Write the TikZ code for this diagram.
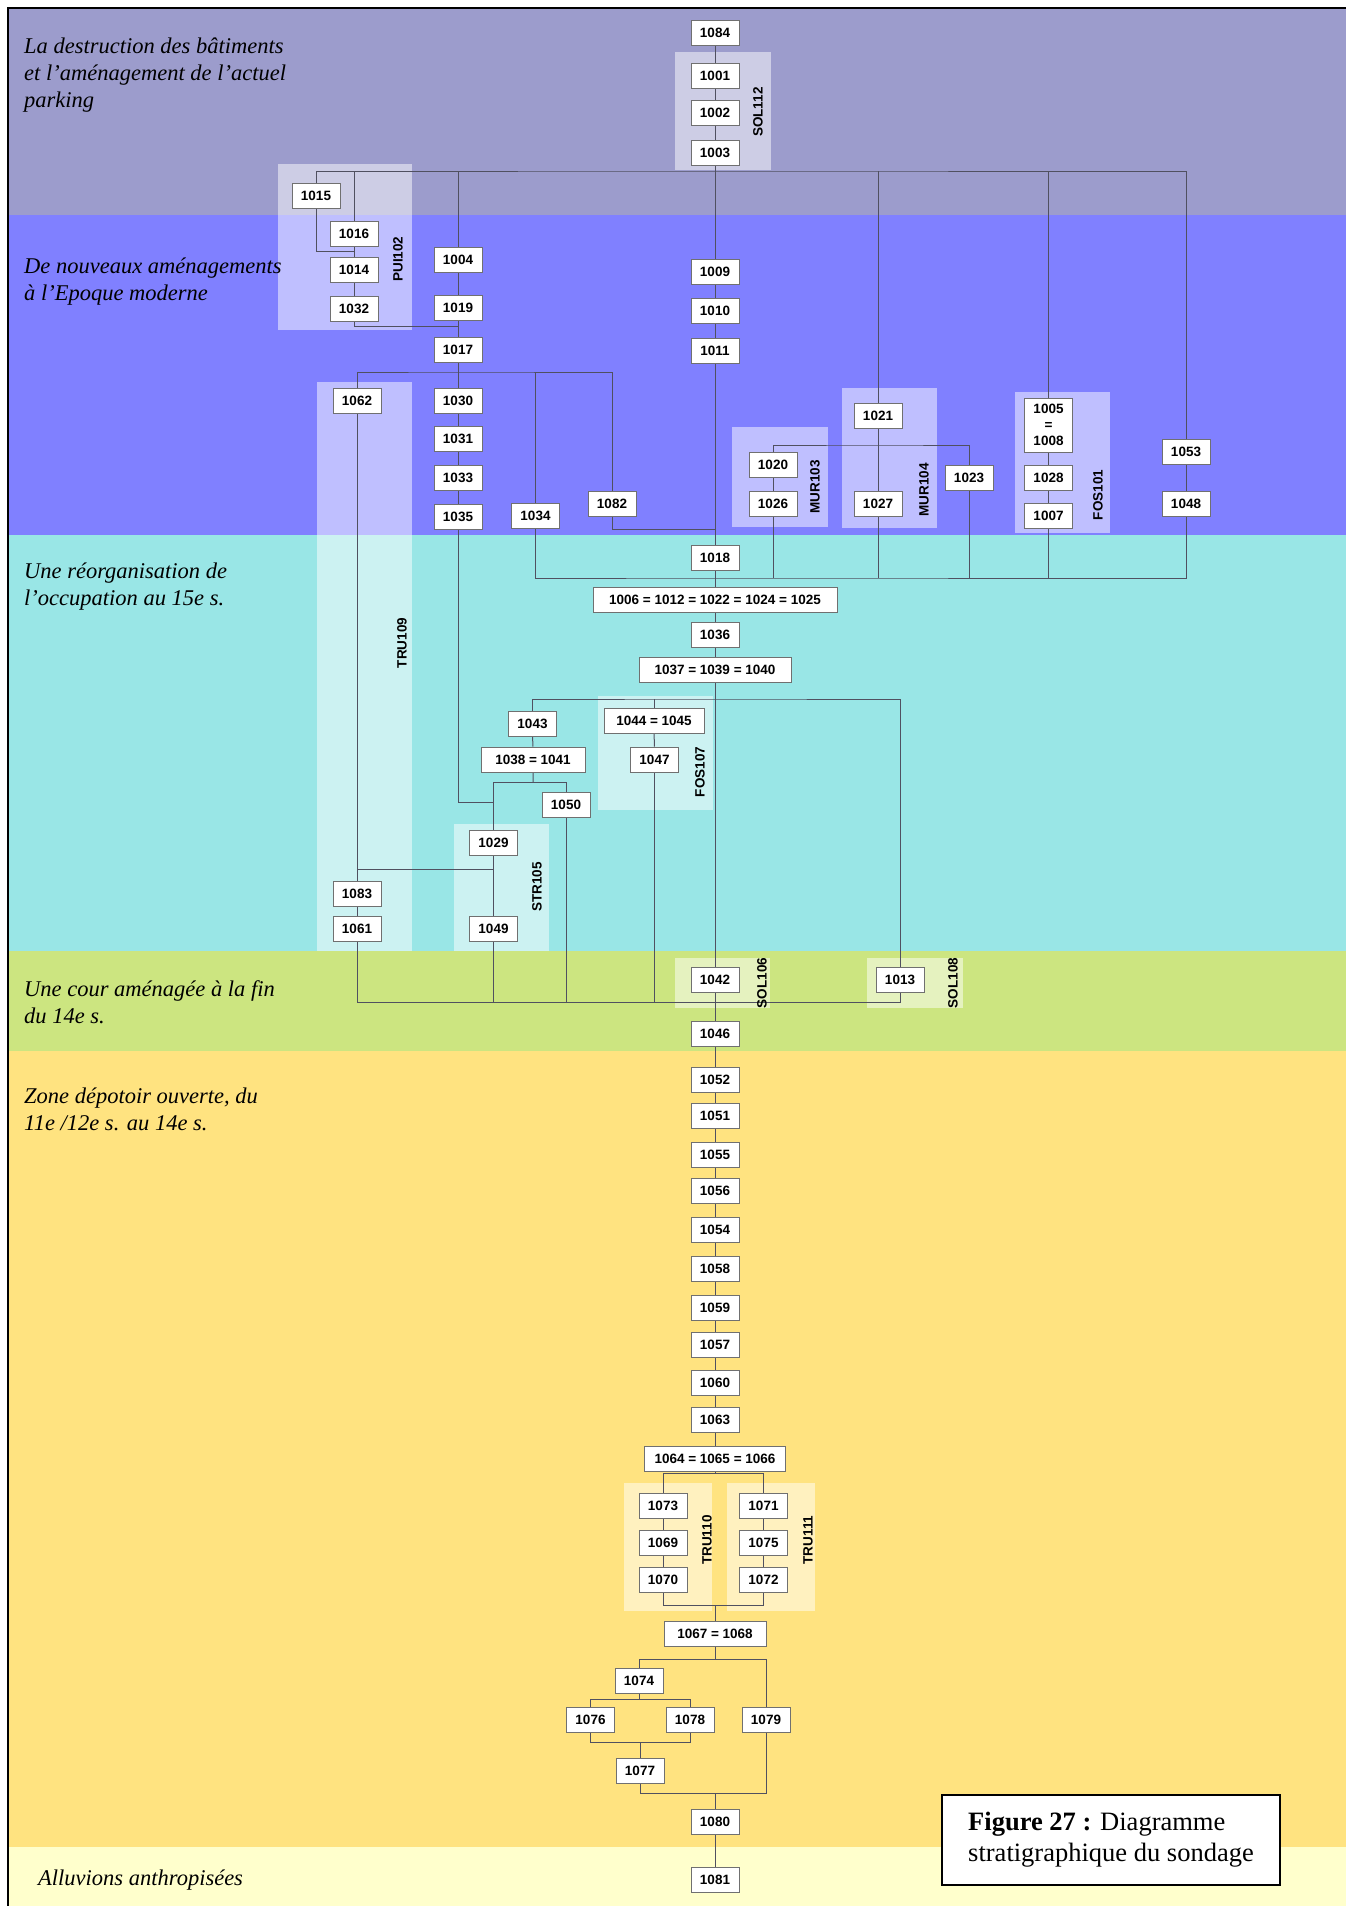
\documentclass[tikz,border=0pt]{standalone}
\usepackage{fontspec}
\setmainfont{Liberation Serif}
\setsansfont{Liberation Sans}
\usetikzlibrary{positioning}

\definecolor{bandtop}{HTML}{9C9CCC}
\definecolor{bandmod}{HTML}{8080FF}
\definecolor{bandquinze}{HTML}{99E6E6}
\definecolor{bandcour}{HTML}{CCE580}
\definecolor{banddepot}{HTML}{FFE380}
\definecolor{bandalluv}{HTML}{FFFFCC}
\definecolor{boxgrey}{HTML}{707070}
\definecolor{linkgrey}{HTML}{505060}

\pgfdeclarelayer{bands}
\pgfdeclarelayer{groups}
\pgfdeclarelayer{links}
\pgfsetlayers{bands,groups,links,main}

\begin{document}
\begin{tikzpicture}[
		x=1pt, y=-1pt,
		us/.style={draw=boxgrey, line width=0.8pt, fill=white, minimum width=48pt, minimum height=25pt, inner sep=0pt, font=\sffamily\bfseries\fontsize{13.5}{16}\selectfont},
		grp/.style={fill=white, fill opacity=0.5},
		grplabel/.style={rotate=90, inner sep=0pt, font=\sffamily\bfseries\fontsize{13.5}{16}\selectfont},
		period/.style={anchor=base west, align=left, inner sep=0pt, font=\itshape\fontsize{22.5}{27}\selectfont},
		link/.style={draw=linkgrey, line width=1pt}
		]
		
		\useasboundingbox (0,0) rectangle (1346,1906);
		
		% Bands
		\begin{pgfonlayer}{bands}
			\fill[white] (0,0) rectangle (1346,1906);
			\fill[bandtop] (8,8) rectangle (1346,215);
			\fill[bandmod] (8,215) rectangle (1346,535);
			\fill[bandquinze] (8,535) rectangle (1346,951);
			\fill[bandcour] (8,951) rectangle (1346,1051);
			\fill[banddepot] (8,1051) rectangle (1346,1847);
			\fill[bandalluv] (8,1847) rectangle (1346,1906);
			\draw[line width=2.5pt] (8,1906) -- (8,8) -- (1346,8);
		\end{pgfonlayer}
		
		% Groups
		\begin{pgfonlayer}{groups}
			\fill[grp] (675,52) rectangle (771,170);
			\fill[grp] (278,164) rectangle (412,330);
			\fill[grp] (317,382) rectangle (412,951);
			\fill[grp] (732,427) rectangle (828,527);
			\fill[grp] (842,388) rectangle (937,528);
			\fill[grp] (1015,392) rectangle (1110,533);
			\fill[grp] (598,696) rectangle (713,810);
			\fill[grp] (454,824) rectangle (549,951);
			\fill[grp] (675,958) rectangle (770,1008);
			\fill[grp] (867,958) rectangle (963,1008);
			\fill[grp] (624,1483) rectangle (712,1611);
			\fill[grp] (727,1483) rectangle (815,1611);
		\end{pgfonlayer}
		
		\node[grplabel] (lSOL112) at (758,112) {SOL112};
		\node[grplabel] (lPUI102) at (398,259) {PUI102};
		\node[grplabel] (lTRU109) at (402,643) {TRU109};
		\node[grplabel] (lMUR103) at (815,487) {MUR103};
		\node[grplabel] (lMUR104) at (924,490) {MUR104};
		\node[grplabel] (lFOS101) at (1098,495) {FOS101};
		\node[grplabel] (lFOS107) at (700,772) {FOS107};
		\node[grplabel] (lSTR105) at (537,887) {STR105};
		\node[grplabel] (lSOL106) at (762,983) {SOL106};
		\node[grplabel] (lSOL108) at (953,983) {SOL108};
		\node[grplabel] (lTRU110) at (707,1540) {TRU110};
		\node[grplabel] (lTRU111) at (808,1540) {TRU111};
		
		% Periods (base = last line)
		\node[period] (pParking) at (24,107) {La destruction des bâtiments\\et l’aménagement de l’actuel\\parking};
		\node[period] (pModerne) at (24,300) {De nouveaux aménagements\\à l’Epoque moderne};
		\node[period] (pQuinze) at (24,605) {Une réorganisation de\\l’occupation au 15e s.};
		\node[period] (pCour) at (24,1023) {Une cour aménagée à la fin\\du 14e s.};
		\node[period] (pDepot) at (24,1130) {Zone dépotoir ouverte, du\\11e /12e s. au 14e s.};
		\node[period] (pAlluv) at (38,1885) {Alluvions anthropisées};
		
		% Units, top
		\node[us] (u1084) at (715,32.5) {1084};
		\node[us, below=18pt of u1084] (u1001) {1001};
		\node[us, below=11pt of u1001] (u1002) {1002};
		\node[us, below=14pt of u1002] (u1003) {1003};
		\node[us] (u1015) at (316,195.5) {1015};
		\node[us] (u1016) at (354,233.5) {1016};
		\node[us, below=11pt of u1016] (u1014) {1014};
		\node[us, below=13pt of u1014] (u1032) {1032};
		\node[us] (u1004) at (458,259.5) {1004};
		\node[us] (u1019) at (458,307.5) {1019};
		\node[us, below=17pt of u1019] (u1017) {1017};
		\node[us] (u1009) at (715,272) {1009};
		\node[us, below=13pt of u1009] (u1010) {1010};
		\node[us, below=14pt of u1010] (u1011) {1011};
		
		% Units, modern
		\node[us] (u1062) at (357,400.5) {1062};
		\node[us] (u1030) at (458,400.5) {1030};
		\node[us, below=13pt of u1030] (u1031) {1031};
		\node[us, below=13pt of u1031] (u1033) {1033};
		\node[us, below=13pt of u1033] (u1035) {1035};
		\node[us] (u1034) at (535.5,515.5) {1034};
		\node[us] (u1082) at (612,503.5) {1082};
		\node[us] (u1020) at (773,464.5) {1020};
		\node[us, below=14pt of u1020] (u1026) {1026};
		\node[us] (u1021) at (878,415.5) {1021};
		\node[us] (u1027) at (878,503.5) {1027};
		\node[us] (u1023) at (969,477.5) {1023};
		\node[us, minimum height=54pt, align=center] (u1005) at (1048.5,425) {1005\\=\\1008};
		\node[us] (u1028) at (1048.5,477.5) {1028};
		\node[us, below=13pt of u1028] (u1007) {1007};
		\node[us] (u1053) at (1186,452) {1053};
		\node[us] (u1048) at (1186,503.5) {1048};
		
		% Units, 15th c.
		\node[us] (u1018) at (715,557.5) {1018};
		\node[us, minimum width=244pt] (u1006) at (715,599.5) {1006 = 1012 = 1022 = 1024 = 1025};
		\node[us] (u1036) at (715,634.5) {1036};
		\node[us, minimum width=152pt] (u1037) at (715,669.5) {1037 = 1039 = 1040};
		\node[us] (u1043) at (532.5,723.5) {1043};
		\node[us, minimum width=104pt] (u1038) at (533,759.5) {1038 = 1041};
		\node[us, minimum width=100pt] (u1044) at (654,720.5) {1044 = 1045};
		\node[us] (u1047) at (654.5,759.5) {1047};
		\node[us] (u1050) at (566,804.5) {1050};
		\node[us] (u1029) at (493.5,842.5) {1029};
		\node[us] (u1049) at (493.5,928.5) {1049};
		\node[us] (u1083) at (357,893.5) {1083};
		\node[us, below=10pt of u1083] (u1061) {1061};
		
		% Units, court and dump
		\node[us] (u1042) at (715,980) {1042};
		\node[us] (u1013) at (900,980) {1013};
		\node[us] (u1046) at (715,1034) {1046};
		\node[us, below=20pt of u1046] (u1052) {1052};
		\node[us, below=10pt of u1052] (u1051) {1051};
		\node[us, below=13pt of u1051] (u1055) {1055};
		\node[us, below=11pt of u1055] (u1056) {1056};
		\node[us, below=13pt of u1056] (u1054) {1054};
		\node[us, below=13pt of u1054] (u1058) {1058};
		\node[us, below=13pt of u1058] (u1059) {1059};
		\node[us, below=11pt of u1059] (u1057) {1057};
		\node[us, below=13pt of u1057] (u1060) {1060};
		\node[us, below=11pt of u1060] (u1063) {1063};
		\node[us, minimum width=141pt, below=13pt of u1063] (u1064) {1064 = 1065 = 1066};
		\node[us] (u1073) at (663,1505.5) {1073};
		\node[us, below=12pt of u1073] (u1069) {1069};
		\node[us, below=11pt of u1069] (u1070) {1070};
		\node[us] (u1071) at (763.5,1505.5) {1071};
		\node[us, below=12pt of u1071] (u1075) {1075};
		\node[us, below=11pt of u1075] (u1072) {1072};
		\node[us, minimum width=102pt] (u1067) at (715,1633.5) {1067 = 1068};
		\node[us] (u1074) at (639,1680.5) {1074};
		\node[us] (u1076) at (590.5,1719.5) {1076};
		\node[us] (u1078) at (690,1719.5) {1078};
		\node[us] (u1079) at (766,1719.5) {1079};
		\node[us] (u1077) at (640,1770.5) {1077};
		\node[us] (u1080) at (715,1821.5) {1080};
		\node[us] (u1081) at (715,1879.5) {1081};
		
		% Caption
		\node[draw, line width=1.6pt, fill=white, minimum width=338pt, minimum height=90pt, align=left, font=\fontsize{26.5}{31}\selectfont] (fig27) at (1111,1840) {\textbf{Figure 27 :} Diagramme\\stratigraphique du sondage};
		
		% Junctions
		\coordinate (bartop) at (715,171);
		\coordinate (j1015) at (354,251);
		\coordinate (j1032) at (458,326);
		\coordinate (bar1017) at (458,372);
		\coordinate (j1082) at (715,529);
		\coordinate (bar1021) at (878,445);
		\coordinate (bar1018) at (715,578);
		\coordinate (bar1037) at (715,699);
		\coordinate (bar1038) at (533,782);
		\coordinate (j1035) at (493.5,802);
		\coordinate (j1029) at (493.5,869);
		\coordinate (bar1042) at (715,1002);
		\coordinate (bar1064) at (715,1473);
		\coordinate (bar1067) at (715,1605);
		\coordinate (bar1074) at (715,1659);
		\coordinate (bar1076) at (640,1699);
		\coordinate (bar1077) at (640,1742);
		\coordinate (bar1080) at (715,1793);
		
		% Links
		\begin{pgfonlayer}{links}
			\draw[link] (u1084) -- (u1001) -- (u1002) -- (u1003) -- (u1009) -- (u1010) -- (u1011) -- (u1018);
			\draw[link] (u1015) |- (bartop) -| (u1053);
			\draw[link] (bartop -| u1016) -- (u1016);
			\draw[link] (bartop -| u1004) -- (u1004);
			\draw[link] (bartop -| u1021) -- (u1021);
			\draw[link] (bartop -| u1005) -- (u1005);
			\draw[link] (u1015) |- (j1015);
			\draw[link] (u1016) -- (u1014) -- (u1032);
			\draw[link] (u1032) |- (j1032);
			\draw[link] (u1004) -- (u1019) -- (u1017) -- (u1030) -- (u1031) -- (u1033) -- (u1035);
			\draw[link] (u1062) |- (bar1017) -| (u1082);
			\draw[link] (bar1017 -| u1034) -- (u1034);
			\draw[link] (u1082) |- (j1082);
			\draw[link] (u1035) |- (j1035);
			\draw[link] (u1062) -- (u1083) -- (u1061);
			\draw[link] (j1029) -- (j1029 -| u1062);
			\draw[link] (u1029) -- (u1049);
			\draw[link] (u1020) |- (bar1021) -| (u1023);
			\draw[link] (u1020) -- (u1026);
			\draw[link] (u1021) -- (u1027);
			\draw[link] (u1005) -- (u1028) -- (u1007);
			\draw[link] (u1053) -- (u1048);
			\draw[link] (u1034) |- (bar1018) -| (u1048);
			\draw[link] (u1026) -- (u1026 |- bar1018);
			\draw[link] (u1027) -- (u1027 |- bar1018);
			\draw[link] (u1023) -- (u1023 |- bar1018);
			\draw[link] (u1007) -- (u1007 |- bar1018);
			\draw[link] (u1018) -- (u1006) -- (u1036) -- (u1037) -- (u1042) -- (u1046) -- (u1052) -- (u1051) -- (u1055) -- (u1056) -- (u1054) -- (u1058) -- (u1059) -- (u1057) -- (u1060) -- (u1063) -- (u1064);
			\draw[link] (u1043) |- (bar1037) -| (u1013);
			\draw[link] (bar1037 -| u1044) -- (u1044);
			\draw[link] (u1043) -- (u1038) -- (bar1038);
			\draw[link] (u1029) |- (bar1038) -| (u1050);
			\draw[link] (u1044) -- (u1047);
			\draw[link] (u1061) |- (bar1042) -| (u1013);
			\draw[link] (u1049) -- (u1049 |- bar1042);
			\draw[link] (u1050) -- (u1050 |- bar1042);
			\draw[link] (u1047) -- (u1047 |- bar1042);
			\draw[link] (u1064) -- (bar1064);
			\draw[link] (u1073) |- (bar1064) -| (u1071);
			\draw[link] (u1073) -- (u1069) -- (u1070);
			\draw[link] (u1071) -- (u1075) -- (u1072);
			\draw[link] (u1070) |- (bar1067) -| (u1072);
			\draw[link] (bar1067) -- (u1067) -- (bar1074);
			\draw[link] (u1074) |- (bar1074) -| (u1079);
			\draw[link] (u1074) -- (u1074 |- bar1076);
			\draw[link] (u1076) |- (bar1076) -| (u1078);
			\draw[link] (u1076) |- (bar1077) -| (u1078);
			\draw[link] (bar1077) -- (u1077);
			\draw[link] (u1077) |- (bar1080) -| (u1079);
			\draw[link] (bar1080) -- (u1080) -- (u1081);
		\end{pgfonlayer}
	\end{tikzpicture}
\end{document}
